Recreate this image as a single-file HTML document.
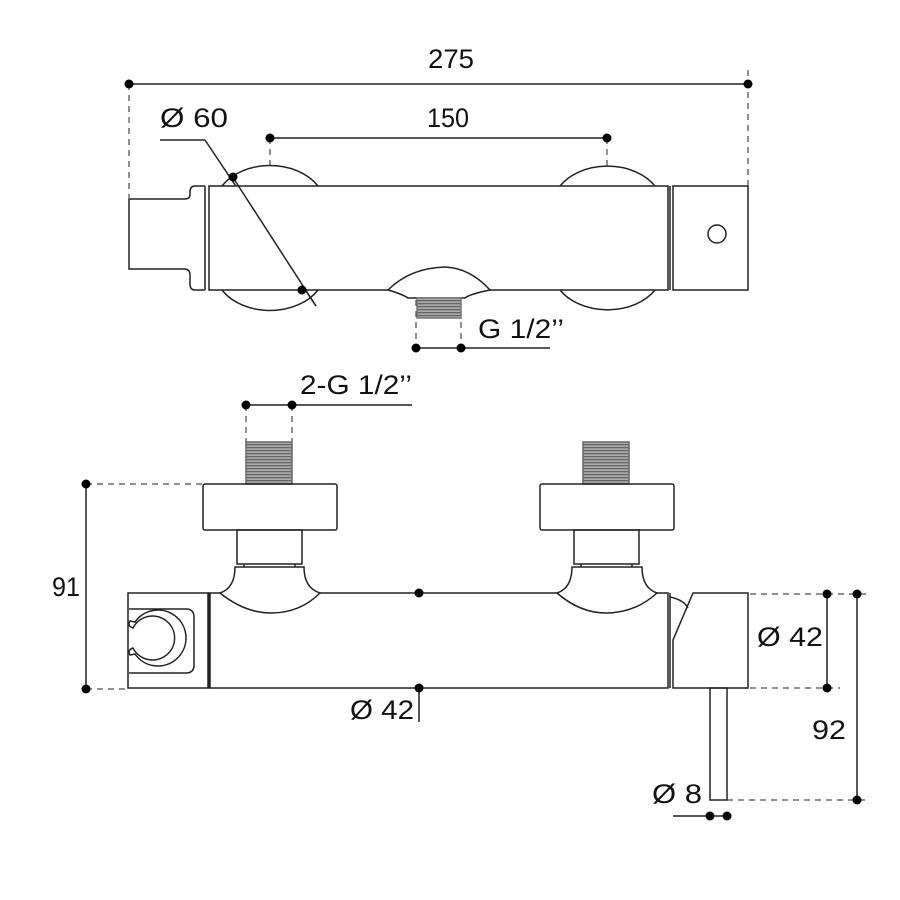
<!DOCTYPE html>
<html><head><style>
html,body{margin:0;padding:0;background:#fff;}
svg{display:block}
text{font-family:"Liberation Sans",sans-serif;font-size:27px;fill:#111;}
</style></head><body>
<svg width="900" height="900" viewBox="0 0 900 900" xmlns="http://www.w3.org/2000/svg">
<defs>
<pattern id="thr" width="8" height="3" patternUnits="userSpaceOnUse">
<rect width="8" height="3" fill="#aaa"/><rect width="8" height="1.3" fill="#666"/>
</pattern>
</defs>
<g stroke="#222" stroke-width="1.5" fill="none">
<g stroke-dasharray="6,5" stroke-width="1">
<line x1="129" y1="84" x2="129" y2="198"/>
<line x1="748" y1="70" x2="748" y2="186"/>
<line x1="270" y1="138" x2="270" y2="170"/>
<line x1="607" y1="138" x2="607" y2="170"/>
<line x1="416" y1="300" x2="416" y2="348"/>
<line x1="461" y1="300" x2="461" y2="348"/>
<line x1="246" y1="405" x2="246" y2="442"/>
<line x1="292" y1="405" x2="292" y2="442"/>
<line x1="86" y1="484" x2="203" y2="484"/>
<line x1="86" y1="689" x2="128" y2="689"/>
<line x1="750" y1="594" x2="870" y2="594"/>
<line x1="750" y1="688" x2="840" y2="688"/>
<line x1="727" y1="800" x2="870" y2="800"/>
</g>
<line x1="129" y1="84" x2="748" y2="84"/>
<line x1="270" y1="138" x2="607" y2="138"/>
<line x1="160" y1="140" x2="205" y2="140"/>
<line x1="205" y1="140" x2="316" y2="306"/>
<line x1="416" y1="348" x2="550" y2="348"/>
<line x1="246" y1="405" x2="412" y2="405"/>
<line x1="86" y1="484" x2="86" y2="689"/>
<line x1="419" y1="593" x2="419" y2="722"/>
<line x1="827" y1="594" x2="827" y2="688"/>
<line x1="857" y1="594" x2="857" y2="800"/>
<line x1="673" y1="816" x2="727" y2="816"/>
<path d="M222 186 A55 40 0 0 1 318 186"/>
<path d="M222 290 A55 40 0 0 0 318 290"/>
<path d="M560 186 A55 40 0 0 1 655 186"/>
<path d="M560 290 A55 40 0 0 0 655 290"/>
<rect x="209" y="186" width="459" height="104" fill="#fff"/>
<line x1="205" y1="186" x2="205" y2="290"/>
<path d="M205 186 H195 Q190 186 190 192 V195 Q190 199 184 199 H129 V269 H184 Q190 269 190 275 V284 Q190 290 195 290 H205"/>
<rect x="673" y="186" width="75" height="104" fill="#fff"/>
<line x1="670" y1="186" x2="670" y2="290"/>
<circle cx="717" cy="234" r="9"/>
<path d="M388 290 Q410 268 445 267 Q470 268 490 290 Q470 294 465 298 H408 Q402 294 388 290" fill="#fff"/>
<line x1="232" y1="176" x2="316" y2="306"/>
<rect x="417" y="298" width="44" height="20" fill="url(#thr)" stroke="#777"/>
<rect x="246" y="442" width="46" height="42" fill="url(#thr)" stroke="#666"/>
<rect x="583" y="442" width="46" height="42" fill="url(#thr)" stroke="#666"/>
<rect x="203" y="484" width="134" height="46" rx="2"/>
<rect x="540" y="484" width="134" height="46" rx="2"/>
<rect x="237" y="530" width="65" height="34"/>
<rect x="574" y="530" width="65" height="34"/>
<line x1="244" y1="564" x2="244" y2="567"/><line x1="295" y1="564" x2="295" y2="567"/>
<line x1="581" y1="564" x2="581" y2="567"/><line x1="632" y1="564" x2="632" y2="567"/>
<rect x="209" y="593" width="459" height="95" fill="#fff"/>
<path d="M220 593 Q235 588 235 567 H304 Q304 588 320 593 Q300 613 271 613 Q245 613 220 593" fill="#fff"/>
<path d="M557 593 Q572 588 572 567 H642 Q642 588 657 593 Q635 613 606 613 Q580 613 557 593" fill="#fff"/>
<rect x="128" y="593" width="80" height="95"/>
<line x1="210" y1="593" x2="210" y2="688"/>
<path d="M129 609 H186 Q194 609 194 617 V665 Q194 673 186 673 H129"/>
<path d="M135 622 A28 28 0 1 1 135 654 L130 655 Q127 650 133 648 A22 22 0 1 0 133 628 Q127 626 130 621 Z"/>
<path d="M693 593 H748 V688 H673 V640 Z" fill="#fff"/>
<line x1="670" y1="593" x2="670" y2="688"/>
<path d="M670 597 Q684 600 688 608"/>
<rect x="710" y="688" width="17" height="112"/>
</g>
<g fill="#000">
<circle cx="129" cy="84" r="4.5"/><circle cx="748" cy="84" r="4.5"/>
<circle cx="270" cy="138" r="4.5"/><circle cx="607" cy="138" r="4.5"/>
<circle cx="233" cy="177" r="4.5"/><circle cx="302" cy="290" r="4.5"/>
<circle cx="416" cy="348" r="4.5"/><circle cx="461" cy="348" r="4.5"/>
<circle cx="246" cy="405" r="4.5"/><circle cx="292" cy="405" r="4.5"/>
<circle cx="86" cy="484" r="4.5"/><circle cx="86" cy="689" r="4.5"/>
<circle cx="419" cy="593" r="4.5"/><circle cx="419" cy="688" r="4.5"/>
<circle cx="827" cy="594" r="4.5"/><circle cx="827" cy="688" r="4.5"/>
<circle cx="857" cy="594" r="4.5"/><circle cx="857" cy="800" r="4.5"/>
<circle cx="710" cy="816" r="4.5"/><circle cx="727" cy="816" r="4.5"/>
</g>
<text x="428" y="68" textLength="46" lengthAdjust="spacingAndGlyphs">275</text>
<text x="160" y="127" textLength="68" lengthAdjust="spacingAndGlyphs">Ø 60</text>
<text x="427" y="127" textLength="42" lengthAdjust="spacingAndGlyphs">150</text>
<text x="478" y="338" textLength="86" lengthAdjust="spacingAndGlyphs">G 1/2’’</text>
<text x="300" y="394" textLength="112" lengthAdjust="spacingAndGlyphs">2-G 1/2’’</text>
<text x="52" y="596" textLength="28" lengthAdjust="spacingAndGlyphs">91</text>
<text x="350" y="719" textLength="64" lengthAdjust="spacingAndGlyphs">Ø 42</text>
<text x="757" y="646" textLength="66" lengthAdjust="spacingAndGlyphs">Ø 42</text>
<text x="812" y="739" textLength="34" lengthAdjust="spacingAndGlyphs">92</text>
<text x="652" y="803" textLength="50" lengthAdjust="spacingAndGlyphs">Ø 8</text>
</svg>
</body></html>
